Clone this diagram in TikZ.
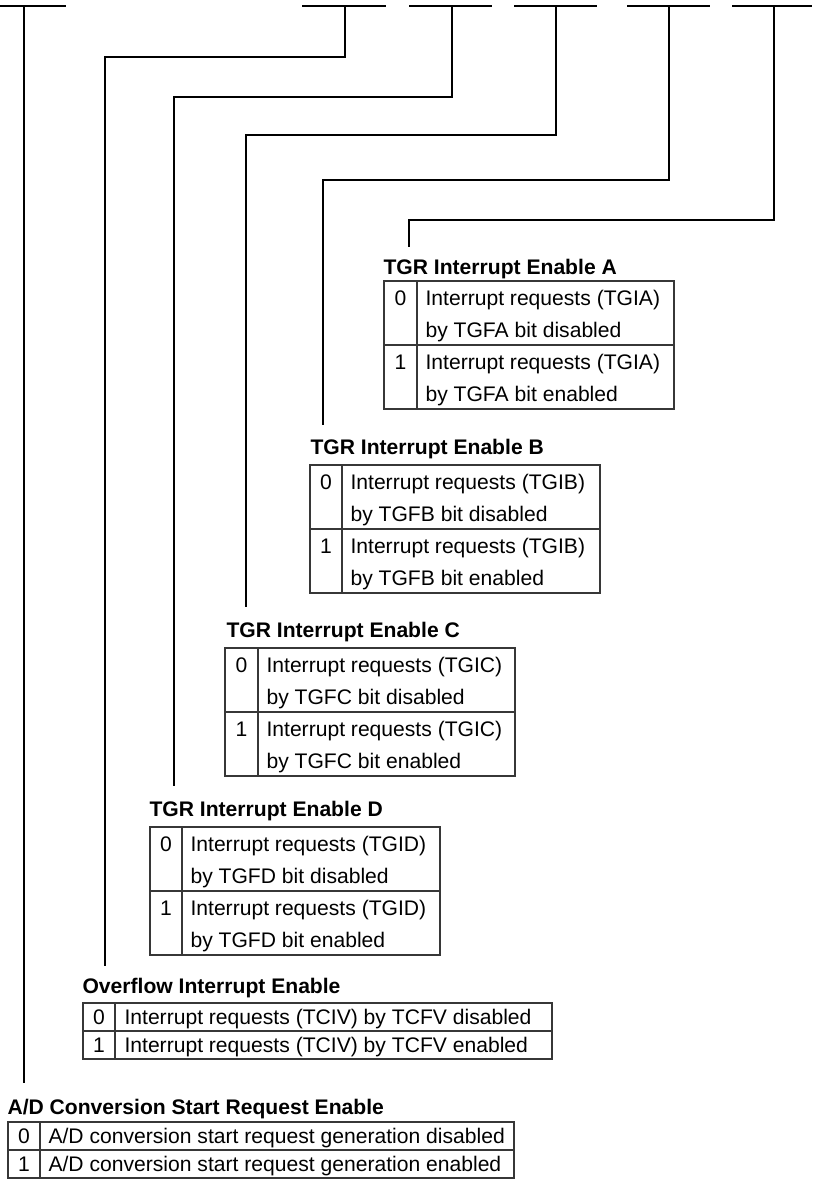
\documentclass[tikz,border=0pt]{standalone}
\usepackage{fontspec}
\setmainfont{Liberation Sans}
\usetikzlibrary{positioning,calc}
\definecolor{rulegray}{RGB}{55,55,55}

\begin{document}
\begin{tikzpicture}[x=1pt,y=-1pt,line width=1.1pt,
  txt/.style={inner sep=0pt,anchor=base west,font=\fontsize{21.1}{24}\selectfont},
  num/.style={inner sep=0pt,anchor=base,font=\fontsize{21.1}{24}\selectfont},
  head/.style={inner sep=0pt,anchor=base west,font=\fontsize{21.1}{24}\selectfont\bfseries},
  tblframe/.style={draw=rulegray,line width=1.1pt}]
\useasboundingbox (0,0) rectangle (812,1186);
% bit fields
\draw (0,6) -- (66,6);
\draw (302,6) -- (386,6);
\draw (409,6) -- (492,6);
\draw (514,6) -- (597,6);
\draw (627,6) -- (710,6);
\draw (732,6) -- (812,6);
\coordinate (bit7) at (24,6);
\coordinate (bit4) at (345,6);
\coordinate (bit3) at (452,6);
\coordinate (bit2) at (556,6);
\coordinate (bit1) at (669,6);
\coordinate (bit0) at (774,6);
\coordinate (eA) at (409,247);
\coordinate (eB) at (323,425);
\coordinate (eC) at (246,607);
\coordinate (eD) at (174,786);
\coordinate (eOvf) at (105,966);
\coordinate (eAD) at (24,1083);
\draw (bit0) -- ++(0,214) -| (eA);
\draw (bit1) -- ++(0,174) -| (eB);
\draw (bit2) -- ++(0,129) -| (eC);
\draw (bit3) -- ++(0,91) -| (eD);
\draw (bit4) -- ++(0,51) -| (eOvf);
\draw (bit7) -- (eAD);
% TGIEA
\node[head] (tA) at (383,274) {TGR Interrupt Enable A};
\draw[tblframe] (384,281) rectangle (674,409);
\draw[tblframe] (417,281) -- (417,409);
\draw[tblframe] (384,345) -- (674,345);
\node[num] (a0) at (400.5,305) {0};
\node[txt] (a0t) at (425,305) {Interrupt requests (TGIA)};
\node[txt] (a0u) at (425,337) {by TGFA bit disabled};
\node[num] (a1) at (400.5,369) {1};
\node[txt] (a1t) at (425,369) {Interrupt requests (TGIA)};
\node[txt] (a1u) at (425,401) {by TGFA bit enabled};
% TGIEB
\node[head] (tB) at (310,454) {TGR Interrupt Enable B};
\draw[tblframe] (310,465) rectangle (600,593);
\draw[tblframe] (342,465) -- (342,593);
\draw[tblframe] (310,529) -- (600,529);
\node[num] (b0) at (326,489) {0};
\node[txt] (b0t) at (350,489) {Interrupt requests (TGIB)};
\node[txt] (b0u) at (350,521) {by TGFB bit disabled};
\node[num] (b1) at (326,553) {1};
\node[txt] (b1t) at (350,553) {Interrupt requests (TGIB)};
\node[txt] (b1u) at (350,585) {by TGFB bit enabled};
% TGIEC
\node[head] (tC) at (226,637) {TGR Interrupt Enable C};
\draw[tblframe] (225,648) rectangle (515,776);
\draw[tblframe] (258,648) -- (258,776);
\draw[tblframe] (225,712) -- (515,712);
\node[num] (c0) at (241.5,672) {0};
\node[txt] (c0t) at (266,672) {Interrupt requests (TGIC)};
\node[txt] (c0u) at (266,704) {by TGFC bit disabled};
\node[num] (c1) at (241.5,736) {1};
\node[txt] (c1t) at (266,736) {Interrupt requests (TGIC)};
\node[txt] (c1u) at (266,768) {by TGFC bit enabled};
% TGIED
\node[head] (tD) at (149,816) {TGR Interrupt Enable D};
\draw[tblframe] (150,827) rectangle (440,955);
\draw[tblframe] (182,827) -- (182,955);
\draw[tblframe] (150,891) -- (440,891);
\node[num] (d0) at (166,851) {0};
\node[txt] (d0t) at (190,851) {Interrupt requests (TGID)};
\node[txt] (d0u) at (190,883) {by TGFD bit disabled};
\node[num] (d1) at (166,915) {1};
\node[txt] (d1t) at (190,915) {Interrupt requests (TGID)};
\node[txt] (d1u) at (190,947) {by TGFD bit enabled};
% TCIEV
\node[head] (tOvf) at (82,993) {Overflow Interrupt Enable};
\draw[tblframe] (83,1003) rectangle (552,1059);
\draw[tblframe] (115,1003) -- (115,1059);
\draw[tblframe] (83,1031) -- (552,1031);
\node[num] (v0) at (99,1024) {0};
\node[txt] (v0t) at (124,1024) {Interrupt requests (TCIV) by TCFV disabled};
\node[num] (v1) at (99,1052) {1};
\node[txt] (v1t) at (124,1052) {Interrupt requests (TCIV) by TCFV enabled};
% TTGE
\node[head] (tAD) at (7,1114) {A/D Conversion Start Request Enable};
\draw[tblframe] (8,1122) rectangle (514,1178);
\draw[tblframe] (40,1122) -- (40,1178);
\draw[tblframe] (8,1150) -- (514,1150);
\node[num] (g0) at (24,1143) {0};
\node[txt] (g0t) at (48,1143) {A/D conversion start request generation disabled};
\node[num] (g1) at (24,1171) {1};
\node[txt] (g1t) at (48,1171) {A/D conversion start request generation enabled};
\end{tikzpicture}
\end{document}
